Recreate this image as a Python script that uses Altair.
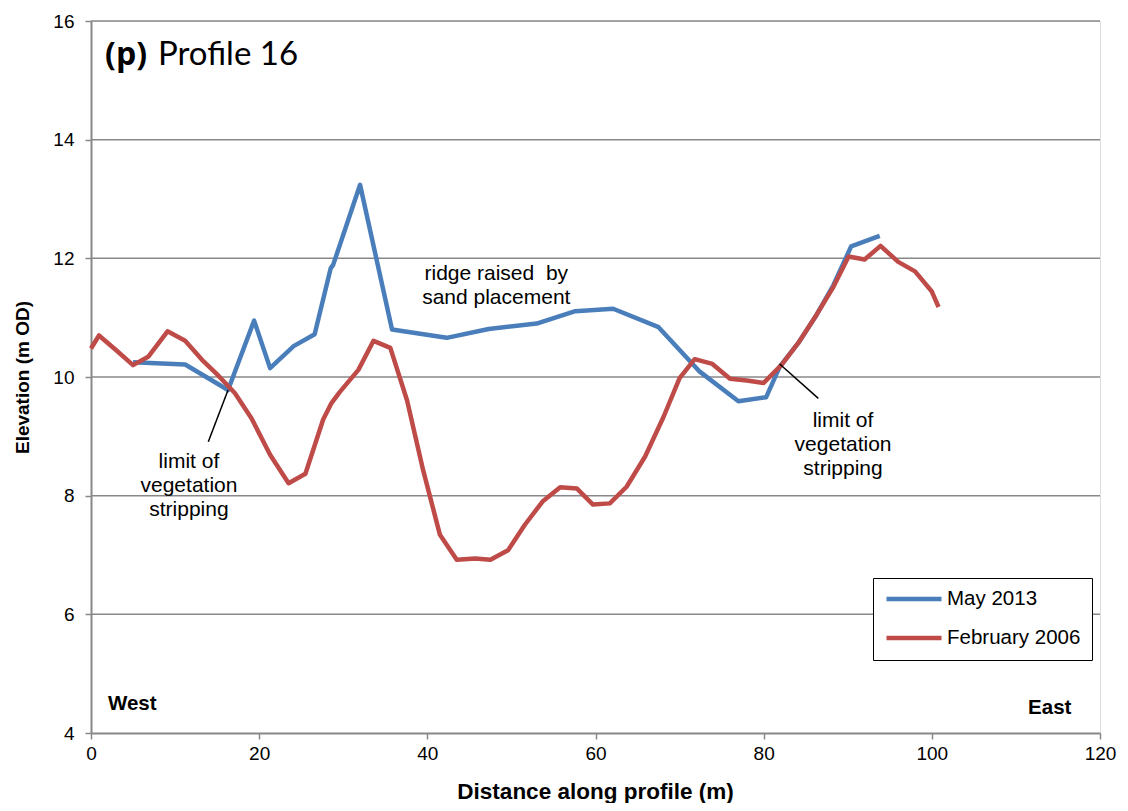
import altair as alt
import pandas as pd

# ---- data ----
may_x = [5.0, 11.2, 16.3, 19.4, 21.3, 24.1, 26.6, 28.5, 28.8, 32.0, 35.8, 42.3, 47.3,
         53.0, 57.6, 62.1, 67.5, 72.4, 77.0, 80.3, 81.9, 84.1, 86.3, 88.3, 90.4, 93.8]
may_y = [10.25, 10.21, 9.78, 10.95, 10.15, 10.52, 10.72, 11.83, 11.89, 13.24, 10.80, 10.66, 10.81,
         10.90, 11.11, 11.15, 10.84, 10.09, 9.59, 9.66, 10.17, 10.57, 11.05, 11.55, 12.20, 12.38]

feb_x = [0, 0.95, 3.0, 5.0, 6.8, 9.1, 11.2, 13.2, 15.1, 17.1, 19.1, 21.3, 23.5, 25.5, 27.6,
         28.6, 29.6, 31.8, 33.6, 35.6, 37.6, 39.5, 41.5, 43.5, 45.7, 47.5, 49.6, 51.6, 53.7,
         55.8, 57.8, 59.7, 61.7, 63.7, 65.9, 68.1, 70.0, 71.8, 73.9, 76.0, 78.0, 80.0, 82.1,
         84.1, 86.3, 88.3, 90.1, 92.0, 93.9, 96.0, 98.0, 100.0, 100.8]
feb_y = [10.48, 10.70, 10.45, 10.20, 10.34, 10.77, 10.61, 10.29, 10.03, 9.73, 9.30, 8.69, 8.21,
         8.37, 9.28, 9.56, 9.75, 10.12, 10.61, 10.49, 9.60, 8.43, 7.34, 6.92, 6.94, 6.92, 7.08,
         7.51, 7.90, 8.14, 8.12, 7.85, 7.87, 8.15, 8.66, 9.33, 9.98, 10.30, 10.22, 9.97, 9.94,
         9.90, 10.20, 10.57, 11.05, 11.52, 12.03, 11.98, 12.21, 11.94, 11.78, 11.44, 11.18]

series_names = ["May 2013", "February 2006"]
series_colors = ["#4a7ebb", "#be4b48"]

x_ticks = [0, 20, 40, 60, 80, 100, 120]
y_ticks = [4, 6, 8, 10, 12, 14, 16]

# annotations (multi-line text, centred)
note_text = ["ridge raised\u00a0 by\nsand placement",
             "limit of\nvegetation\nstripping",
             "limit of\nvegetation\nstripping"]
note_x = [48.2, 11.65, 89.44]
note_y = [11.64, 8.47, 9.16]

# leader lines
lead_x = [13.95, 81.9]
lead_y = [8.91, 10.22]
lead_x2 = [16.3, 86.5]
lead_y2 = [9.78, 9.64]

# ---- build tables ----
lines_df = pd.DataFrame({
    "series": [series_names[0]] * len(may_x) + [series_names[1]] * len(feb_x),
    "x": may_x + feb_x,
    "y": may_y + feb_y,
    "order": list(range(len(may_x))) + list(range(len(feb_x))),
})
notes_df = pd.DataFrame({"text": note_text, "x": note_x, "y": note_y})
lead_df = pd.DataFrame({"x": lead_x, "y": lead_y, "x2": lead_x2, "y2": lead_y2})

FONT = "Liberation Sans"

xscale = alt.Scale(domain=[0, 120], nice=False, zero=False)
yscale = alt.Scale(domain=[4, 16], nice=False, zero=False)

axis_common = dict(
    grid=False, domainColor="#888888", domainWidth=2, tickColor="#888888",
    tickWidth=1.5, tickSize=6, labelFont=FONT, labelFontSize=19, labelColor="black",
    titleFont=FONT, titleColor="black", titleFontWeight="bold", labelFlush=False,
    format="d",
)

lines = alt.Chart(lines_df).mark_line(strokeWidth=4.5, strokeJoin="round").encode(
    x=alt.X("x:Q", scale=xscale,
            axis=alt.Axis(values=x_ticks, title="Distance along profile (m)", titleFontSize=22.5,
                          labelPadding=5, titleX=504, titleY=58, titleBaseline="middle",
                          **axis_common)),
    y=alt.Y("y:Q", scale=yscale,
            axis=alt.Axis(values=y_ticks, title="Elevation (m OD)", titleFontSize=19,
                          labelPadding=11, titleX=-69, titleY=356,
                          titleAngle=-90, titleAlign="center", titleBaseline="middle",
                          **axis_common)),
    color=alt.Color("series:N",
                    scale=alt.Scale(domain=series_names, range=series_colors),
                    legend=alt.Legend(title=None, orient="none", legendX=782, legendY=557,
                                      strokeColor="black", fillColor="white", padding=11,
                                      symbolType="stroke", symbolSize=3025,
                                      symbolStrokeWidth=4.5, labelFont=FONT, labelFontSize=20.5,
                                      labelColor="black", clipHeight=20, rowPadding=18,
                                      labelOffset=3)),
    order="order:Q",
)

grid = alt.Chart(pd.DataFrame({"g": y_ticks[1:]})).mark_rule(
    color="#888888", strokeWidth=1.5).encode(y=alt.Y("g:Q", scale=yscale))

leaders = alt.Chart(lead_df).mark_rule(color="black", strokeWidth=1.5).encode(
    x="x:Q", y="y:Q", x2="x2:Q", y2="y2:Q")

notes = alt.Chart(notes_df).mark_text(
    font=FONT, fontSize=21, align="center", baseline="alphabetic", lineBreak="\n",
    lineHeight=24, color="black").encode(x="x:Q", y="y:Q", text="text:N")

ends_df = pd.DataFrame({"text": ["West", "East"], "x": [2.02, 116.6], "y": [4.39, 4.315]})
west = alt.Chart(ends_df.iloc[[0]]).mark_text(
    font=FONT, fontSize=20.5, fontWeight="bold", align="left", baseline="alphabetic",
    color="black").encode(x="x:Q", y="y:Q", text="text:N")
east = alt.Chart(ends_df.iloc[[1]]).mark_text(
    font=FONT, fontSize=20.5, fontWeight="bold", align="right", baseline="alphabetic",
    color="black").encode(x="x:Q", y="y:Q", text="text:N")

title_df = pd.DataFrame({"text": ["(p)", "Profile 16"], "x": [1.67, 7.97], "y": [15.26, 15.26]})
t_bold = alt.Chart(title_df.iloc[[0]]).mark_text(
    font="Open Sans", fontSize=32, fontWeight="bold", align="left", baseline="alphabetic",
    color="black").encode(x="x:Q", y="y:Q", text="text:N")
t_norm = alt.Chart(title_df.iloc[[1]]).mark_text(
    font="Lato", fontSize=33, align="left", baseline="alphabetic",
    color="black").encode(x="x:Q", y="y:Q", text="text:N")

chart = alt.layer(grid, lines, leaders, notes, west, east, t_bold, t_norm).properties(
    width=1009, height=712,
    padding={"left": 83, "top": 13, "right": 20, "bottom": 70},
    autosize=alt.AutoSizeParams(type="none"),
).configure_view(stroke="#444444", strokeWidth=1.5).configure(background="white")

chart.save("out.html", embed_options={"renderer": "svg", "actions": False})
